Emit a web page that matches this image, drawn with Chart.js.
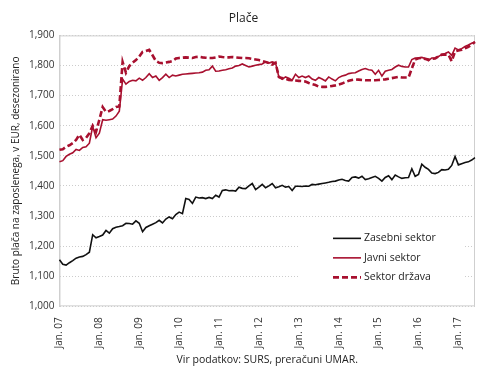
<!DOCTYPE html>
<html>
<head>
<meta charset="utf-8">
<script src="https://cdn.jsdelivr.net/npm/chart.js@4"></script>
<style>
    html, body { margin: 0; padding: 0; background: #fff; }
    #wrap { width: 490px; height: 366px; position: relative; }
</style>
</head>
<body>
<div id="wrap"><canvas id="chart" width="490" height="366"></canvas></div>
<script>
// mesečni podatki, jan. 2007 - jun. 2017
const years = ['07', '08', '09', '10', '11', '12', '13', '14', '15', '16', '17'];
const months = ['Jan.', 'Feb.', 'Mar.', 'Apr.', 'Maj', 'Jun.', 'Jul.', 'Avg.', 'Sep.', 'Okt.', 'Nov.', 'Dec.'];
const monthCount = 126;

const zasebni = [
    1155, 1140, 1137, 1145, 1152, 1160, 1164, 1166, 1172, 1180, 1238, 1228,
    1232, 1237, 1252, 1243, 1258, 1263, 1265, 1268, 1276, 1275, 1273, 1284,
    1276, 1248, 1262, 1268, 1273, 1278, 1286, 1277, 1290, 1297, 1291, 1305,
    1313, 1308, 1358, 1355, 1342, 1363, 1360, 1361, 1358, 1362, 1358, 1369,
    1363, 1385, 1387, 1384, 1385, 1383, 1396, 1392, 1391, 1400, 1408, 1388,
    1396, 1405, 1394, 1400, 1408, 1394, 1397, 1402, 1396, 1398, 1385, 1399,
    1399, 1398, 1400, 1399, 1405, 1404, 1406, 1408, 1410, 1412, 1415, 1416,
    1420, 1422, 1418, 1416, 1428, 1430, 1426, 1432, 1421, 1424, 1428, 1432,
    1425, 1416, 1428, 1434, 1421, 1436, 1430, 1425, 1427, 1428, 1457, 1432,
    1438, 1472, 1462, 1455, 1443, 1441, 1445, 1454, 1453, 1455, 1468, 1498,
    1470, 1474, 1478, 1480, 1486, 1494
];

const javni = [
    1480, 1484, 1498, 1505, 1510, 1521, 1518, 1528, 1530, 1542, 1598, 1560,
    1575, 1620, 1618, 1620, 1622, 1632, 1648, 1755, 1738, 1747, 1751, 1749,
    1758, 1751, 1760, 1773, 1760, 1765, 1751, 1760, 1771, 1760, 1768, 1765,
    1768, 1771, 1772, 1773, 1774, 1775, 1776, 1778, 1784, 1786, 1798, 1781,
    1782, 1784, 1786, 1789, 1792, 1798, 1800, 1805, 1800, 1795, 1798, 1801,
    1803, 1805, 1812, 1808, 1812, 1809, 1762, 1754, 1762, 1758, 1751, 1771,
    1760, 1765, 1760, 1765, 1755, 1751, 1760, 1755, 1749, 1762, 1755, 1749,
    1760, 1765, 1768, 1773, 1775, 1776, 1782, 1787, 1790, 1786, 1784, 1771,
    1784, 1765, 1781, 1784, 1787, 1795, 1801, 1797, 1795, 1795, 1820, 1825,
    1825, 1827, 1823, 1816, 1825, 1826, 1830, 1836, 1840, 1845, 1834, 1858,
    1852, 1856, 1863, 1868, 1874, 1878
];

const drzava = [
    1520, 1522, 1530, 1535, 1542, 1553, 1570, 1553, 1560, 1575, 1600, 1580,
    1620, 1662, 1646, 1649, 1655, 1662, 1664, 1812, 1776, 1798, 1809, 1818,
    1830, 1845, 1848, 1852, 1834, 1815, 1809, 1808, 1810, 1812, 1815, 1823,
    1825, 1826, 1827, 1826, 1825, 1828, 1829, 1827, 1826, 1825, 1825, 1827,
    1830, 1828, 1827, 1827, 1828, 1827, 1826, 1825, 1825, 1824, 1822, 1820,
    1818, 1815, 1812, 1808, 1803, 1809, 1762, 1758, 1756, 1752, 1751, 1750,
    1749, 1748, 1747, 1742, 1738, 1735, 1730, 1729, 1729, 1730, 1732, 1734,
    1737, 1740, 1745, 1749, 1752, 1754, 1753, 1752, 1751, 1751, 1751, 1751,
    1752, 1753, 1754, 1756, 1758, 1760, 1762, 1760, 1760, 1760, 1790, 1820,
    1824, 1825, 1822, 1820, 1822, 1823, 1830, 1836, 1836, 1836, 1814, 1847,
    1850, 1852, 1857, 1862, 1870, 1878
];

const seriesNames = ['Zasebni sektor', 'Javni sektor', 'Sektor država'];
const yMin = 1000;
const yMax = 1900;
const yStep = 100;

const labels = [];
for (let i = 0; i < monthCount; i++) {
    labels.push(months[i % 12] + ' ' + years[Math.floor(i / 12)]);
}

const FONT = "'Open Sans', 'Noto Sans', sans-serif";
const RED = '#a8102f';

// okvir risalne površine
const frameBox = {
    id: 'frameBox',
    beforeDatasetsDraw(chart) {
        const { ctx, chartArea: a } = chart;
        ctx.save();
        ctx.strokeStyle = '#cfcfcf';
        ctx.lineWidth = 1;
        ctx.strokeRect(a.left + 0.5, a.top + 0.5, a.right - a.left - 1, a.bottom - a.top - 1);
        ctx.restore();
    }
};

// legenda znotraj grafa, spodaj desno
const insideLegend = {
    id: 'insideLegend',
    afterDraw(chart) {
        const { ctx, chartArea: a } = chart;
        const x0 = a.right - 176;
        const y0 = a.bottom - 78;
        ctx.save();
        ctx.fillStyle = '#fff';
        ctx.fillRect(x0, y0, 165, 76);
        ctx.font = '10.5px ' + FONT;
        ctx.textBaseline = 'middle';
        chart.data.datasets.forEach((ds, i) => {
            const y = y0 + 10 + i * 19.5;
            ctx.beginPath();
            ctx.strokeStyle = ds.borderColor;
            ctx.lineWidth = ds.borderWidth;
            ctx.setLineDash(ds.borderDash || []);
            ctx.moveTo(x0 + 34, y);
            ctx.lineTo(x0 + 62, y);
            ctx.stroke();
            ctx.setLineDash([]);
            ctx.fillStyle = '#222';
            ctx.fillText(ds.label, x0 + 65, y);
        });
        ctx.restore();
    }
};

new Chart(document.getElementById('chart'), {
    type: 'line',
    data: {
        labels: labels,
        datasets: [{
            label: seriesNames[0],
            data: zasebni,
            borderColor: '#111',
            borderWidth: 1.6,
            pointRadius: 0,
            tension: 0
        }, {
            label: seriesNames[1],
            data: javni,
            borderColor: RED,
            borderWidth: 1.6,
            pointRadius: 0,
            tension: 0
        }, {
            label: seriesNames[2],
            data: drzava,
            borderColor: RED,
            borderWidth: 2.6,
            borderDash: [6, 3],
            pointRadius: 0,
            tension: 0
        }]
    },
    options: {
        responsive: false,
        animation: false,
        layout: {
            padding: { top: 0, right: 13, left: 10, bottom: 0 }
        },
        plugins: {
            legend: { display: false },
            tooltip: { enabled: false },
            title: {
                display: true,
                text: 'Plače',
                color: '#222',
                font: { family: FONT, size: 12, weight: 'normal' },
                padding: { top: 11, bottom: 10 }
            }
        },
        scales: {
            x: {
                offset: false,
                grid: { display: false },
                border: { display: false },
                ticks: {
                    autoSkip: false,
                    minRotation: 90,
                    maxRotation: 90,
                    color: '#333',
                    padding: 3,
                    font: { family: FONT, size: 10 },
                    callback: function (value, index) {
                        return index % 12 === 0 ? this.getLabelForValue(value) : '';
                    }
                },
                title: {
                    display: true,
                    text: 'Vir podatkov: SURS, preračuni UMAR.',
                    color: '#222',
                    font: { family: FONT, size: 10.5 },
                    padding: { top: 2, bottom: 0 }
                }
            },
            y: {
                min: yMin,
                max: yMax,
                grid: {
                    color: '#cccccc',
                    lineWidth: 1,
                    drawTicks: false
                },
                border: { display: true, color: '#cfcfcf', dash: [1, 2] },
                ticks: {
                    stepSize: yStep,
                    color: '#333',
                    padding: 5,
                    font: { family: FONT, size: 10 },
                    callback: (v) => v.toLocaleString('en-US')
                },
                title: {
                    display: true,
                    text: 'Bruto plača na zaposlenega, v EUR, desezonirano',
                    color: '#222',
                    font: { family: FONT, size: 10 },
                    padding: { top: 0, bottom: 2 }
                }
            }
        }
    },
    plugins: [frameBox, insideLegend]
});
</script>
</body>
</html>
